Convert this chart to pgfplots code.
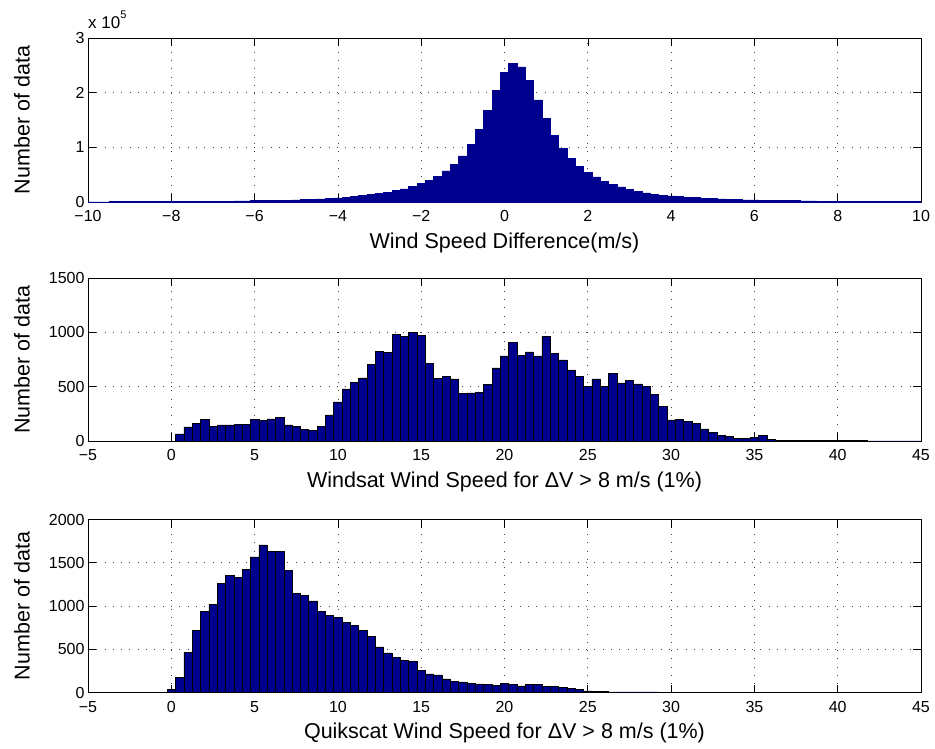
\documentclass[border=0pt]{standalone}
\usepackage{pgfplots}
\usepackage{pgfplotstable}
\pgfplotsset{compat=1.18}
\usepackage{fontspec}
\setmainfont{Liberation Sans}
\definecolor{barblue}{rgb}{0,0,0.5625}

\pgfplotstableread{
x y
-10.0 400
-9.8 420
-9.6 450
-9.4 480
-9.2 520
-9.0 560
-8.8 600
-8.6 650
-8.4 700
-8.2 760
-8.0 820
-7.8 900
-7.6 980
-7.4 1070
-7.2 1170
-7.0 1300
-6.8 1450
-6.6 1650
-6.4 1850
-6.2 2100
-6.0 2400
-5.8 2700
-5.6 3000
-5.4 3300
-5.2 3650
-5.0 4000
-4.8 4500
-4.6 5100
-4.4 5800
-4.2 6600
-4.0 7500
-3.8 8500
-3.6 10000
-3.4 12000
-3.2 14000
-3.0 16000
-2.8 18000
-2.6 21000
-2.4 24000
-2.2 29000
-2.0 34000
-1.8 40000
-1.6 47000
-1.4 57000
-1.2 69000
-1.0 84500
-0.8 106000
-0.6 133000
-0.4 168000
-0.2 204000
0.0 237000
0.2 254000
0.4 247000
0.6 222000
0.8 187000
1.0 153000
1.2 122000
1.4 98000
1.6 80000
1.8 65500
2.0 54500
2.2 46000
2.4 38000
2.6 32500
2.8 27500
3.0 23300
3.2 19600
3.4 16500
3.6 14000
3.8 12800
4.0 11000
4.2 9800
4.4 8800
4.6 7800
4.8 7000
5.0 6200
5.2 5600
5.4 5000
5.6 4500
5.8 4100
6.0 3700
6.2 3400
6.4 3100
6.6 2800
6.8 2550
7.0 2300
7.2 2100
7.4 1900
7.6 1750
7.8 1600
8.0 1450
8.2 1350
8.4 1250
8.6 1150
8.8 1050
9.0 970
9.2 900
9.4 830
9.6 770
9.8 720
10.0 900
}\diffdata

\pgfplotstableread{
x y
0.5 65
1.0 129
1.5 163
2.0 200
2.5 135
3.0 148
3.5 148
4.0 151
4.5 154
5.0 197
5.5 191
6.0 203
6.5 215
7.0 148
7.5 138
8.0 108
8.5 95
9.0 138
9.5 240
10.0 360
10.5 480
11.0 538
11.5 581
12.0 704
12.5 824
13.0 818
13.5 984
14.0 965
14.5 1002
15.0 975
15.5 713
16.0 578
16.5 596
17.0 572
17.5 440
18.0 443
18.5 446
19.0 520
19.5 672
20.0 784
20.5 905
21.0 790
21.5 821
22.0 784
22.5 962
23.0 805
23.5 747
24.0 655
24.5 593
25.0 501
25.5 572
26.0 504
26.5 621
27.0 535
27.5 559
28.0 526
28.5 501
29.0 427
29.5 317
30.0 194
30.5 200
31.0 178
31.5 163
32.0 111
32.5 80
33.0 52
33.5 43
34.0 25
34.5 25
35.0 34
35.5 49
36.0 18
36.5 6
37.0 5
37.5 4
38.0 4
38.5 3
39.0 3
39.5 3
40.0 4
40.5 3
41.0 6
41.5 3
42.0 2
42.5 2
43.0 2
43.5 2
44.0 1
44.5 1
45.0 1
}\windsat

\pgfplotstableread{
x y
0.0 35
0.5 175
1.0 465
1.5 719
2.0 935
2.5 1019
3.0 1262
3.5 1350
4.0 1331
4.5 1423
5.0 1569
5.5 1708
6.0 1635
6.5 1631
7.0 1415
7.5 1146
8.0 1123
8.5 1058
9.0 935
9.5 896
10.0 865
10.5 812
11.0 777
11.5 719
12.0 650
12.5 527
13.0 458
13.5 404
14.0 373
14.5 358
15.0 258
15.5 215
16.0 204
16.5 158
17.0 127
17.5 123
18.0 108
18.5 100
19.0 95
19.5 81
20.0 102
20.5 95
21.0 77
21.5 92
22.0 94
22.5 70
23.0 68
23.5 56
24.0 45
24.5 38
25.0 20
25.5 13
26.0 12
26.5 8
27.0 8
27.5 7
28.0 7
28.5 6
29.0 6
29.5 5
30.0 5
30.5 3
31.0 2
31.5 2
32.0 2
32.5 1
33.0 1
33.5 1
34.0 1
34.5 1
35.0 1
35.5 1
36.0 1
36.5 1
37.0 1
37.5 1
38.0 1
38.5 1
39.0 1
39.5 1
40.0 1
40.5 1
41.0 1
41.5 1
42.0 1
42.5 1
43.0 1
43.5 1
44.0 1
44.5 1
45.0 1
}\quikscat

\pgfplotsset{
  mystyle/.style={
    scale only axis, width=833pt,
    anchor=north west,
    clip mode=individual,
    axis line style={line width=0.9pt},
    tick align=inside, xtick pos=both, ytick pos=both,
    major tick length=8pt,
    tick style={black, line width=0.6pt},
    grid=major,
    grid style={black!75, line width=0.7pt, dash pattern=on 0.9pt off 7.4pt},
    ticklabel style={font=\fontsize{16}{19}\selectfont},
    xticklabel style={yshift=-5pt},
    label style={font=\fontsize{21.5}{25}\selectfont},
    ylabel={Number of data},
    ylabel style={at={(axis description cs:-0.0792,0.5)}, anchor=center},
    scaled y ticks=false,
    ymin=0,
  },
  winds/.style={
    xmin=-5, xmax=45,
    xtick={-5,0,5,10,15,20,25,30,35,40,45},
    xticklabels={−5,0,5,10,15,20,25,30,35,40,45},
  }
}

\begin{document}
\begin{tikzpicture}
\path[use as bounding box] (0pt,0pt) rectangle (935pt,-748pt);

\begin{axis}[mystyle, at={(88pt,-38pt)}, height=164pt,
  xmin=-10, xmax=10, ymax=300000,
  xtick={-10,-8,-6,-4,-2,0,2,4,6,8,10},
  xticklabels={−10,−8,−6,−4,−2,0,2,4,6,8,10},
  ytick={0,100000,200000,300000}, yticklabels={0,1,2,3},
  xlabel={Wind Speed Difference(m/s)},
  xlabel style={at={(axis description cs:0.5,-0.2805)}, anchor=base}]
\addplot[ybar, bar width=0.2, bar shift=0pt, fill=barblue, draw=barblue, line width=0.5pt] table[x=x,y=y] {\diffdata};
\node[anchor=base west, inner sep=0pt, yshift=10pt, font=\fontsize{17}{20}\selectfont] at (rel axis cs:0,1) {x 10\raisebox{0.55em}{\fontsize{11}{13}\selectfont 5}};
\end{axis}

\begin{axis}[mystyle, winds, at={(88pt,-278pt)}, height=163pt,
  ymax=1500, ytick={0,500,1000,1500}, yticklabels={0,500,1000,1500},
  xlabel={Windsat Wind Speed for ΔV > 8 m/s (1\%)},
  xlabel style={at={(axis description cs:0.5,-0.2822)}, anchor=base}]
\addplot[ybar, bar width=0.5, bar shift=0pt, fill=barblue, draw=black, line width=0.5pt] table[x=x,y=y] {\windsat};
\end{axis}

\begin{axis}[mystyle, winds, at={(88pt,-519.5pt)}, height=173pt,
  ymax=2000, ytick={0,500,1000,1500,2000}, yticklabels={0,500,1000,1500,2000},
  xlabel={Quikscat Wind Speed for ΔV > 8 m/s (1\%)},
  xlabel style={at={(axis description cs:0.5,-0.266)}, anchor=base}]
\addplot[ybar, bar width=0.5, bar shift=0pt, fill=barblue, draw=black, line width=0.5pt] table[x=x,y=y] {\quikscat};
\end{axis}
\end{tikzpicture}
\end{document}
